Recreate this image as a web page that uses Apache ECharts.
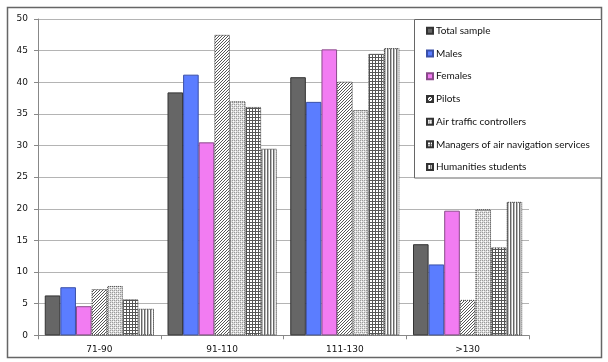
<!DOCTYPE html>
<html><head><meta charset="utf-8">
<script src="https://cdn.jsdelivr.net/npm/echarts@6/dist/echarts.min.js"></script>
<style>html,body{margin:0;padding:0;background:#fff}#c{width:608px;height:362px}</style>
</head><body><div id="c"></div>
<script>
const categories = ['71-90', '91-110', '111-130', '>130'];
const seriesNames = ['Total sample', 'Males', 'Females', 'Pilots', 'Air traffic controllers', 'Managers of air navigation services', 'Humanities students'];
const totalSample = [6.3, 38.4, 40.8, 14.4];
const males = [7.6, 41.2, 36.9, 11.2];
const females = [4.6, 30.5, 45.2, 19.7];
const pilots = [7.3, 47.5, 40.1, 5.6];
const atc = [7.8, 37.0, 35.6, 19.9];
const managers = [5.7, 36.1, 44.5, 13.9];
const humanities = [4.2, 29.5, 45.4, 21.1];
const yTicks = [0, 5, 10, 15, 20, 25, 30, 35, 40, 45, 50];

function pat(w, h, fn) {
  const c = document.createElement('canvas');
  c.width = w; c.height = h;
  const g = c.getContext('2d');
  fn(g);
  return { image: c, repeat: 'repeat' };
}
const pilotPat = pat(3, 3, g => {
  g.fillStyle = '#fff'; g.fillRect(0, 0, 3, 3);
  g.fillStyle = '#555';
  for (let i = 0; i < 3; i++) g.fillRect(i, 2 - i, 1, 1);
});
const atcPat = pat(4, 4, g => {
  g.fillStyle = '#dcdcdc'; g.fillRect(0, 0, 4, 4);
  g.fillStyle = '#9a9a9a';
  g.fillRect(0, 0, 1, 1); g.fillRect(2, 2, 1, 1); g.fillRect(2, 0, 1, 1); g.fillRect(0, 2, 1, 1);
  g.fillStyle = '#fff';
  g.fillRect(1, 1, 1, 1); g.fillRect(3, 3, 1, 1);
});
const mgrPat = pat(3, 3, g => {
  g.fillStyle = '#fff'; g.fillRect(0, 0, 3, 3);
  g.fillStyle = '#555';
  g.fillRect(0, 0, 3, 1); g.fillRect(0, 0, 1, 3);
});
const humPat = pat(3, 3, g => {
  g.fillStyle = '#fff'; g.fillRect(0, 0, 3, 3);
  g.fillStyle = '#666'; g.fillRect(0, 0, 1, 3);
  g.fillStyle = '#bbb'; g.fillRect(1, 0, 1, 3);
});

const styles = [
  { color: '#666666', borderColor: '#333', borderWidth: 1 },
  { color: '#5b7dff', borderColor: '#3a50a8', borderWidth: 1 },
  { color: '#f27cf2', borderColor: '#8a4a8a', borderWidth: 1 },
  { color: pilotPat, borderColor: '#333', borderWidth: 1, borderType: 'dotted' },
  { color: atcPat, borderColor: '#333', borderWidth: 1, borderType: 'dotted' },
  { color: mgrPat, borderColor: '#333', borderWidth: 1, borderType: 'dotted' },
  { color: humPat, borderColor: '#333', borderWidth: 1, borderType: 'dotted' }
];
const values = [totalSample, males, females, pilots, atc, managers, humanities];

const chart = echarts.init(document.getElementById('c'), null, { renderer: 'canvas' });
chart.setOption({
  animation: false,
  backgroundColor: '#fff',
  grid: { left: 38, right: 79, top: 19, bottom: 26.7 },
  xAxis: {
    type: 'category', data: categories,
    axisLine: { lineStyle: { color: '#888', width: 1 } },
    axisTick: { show: true, length: 4, lineStyle: { color: '#888' } },
    axisLabel: { fontFamily: 'DejaVu Sans', fontSize: 9, color: '#111', margin: 10 }
  },
  yAxis: {
    type: 'value', min: 0, max: 50, interval: 5,
    axisLine: { show: true, lineStyle: { color: '#888' } },
    axisTick: { show: true, length: 4, lineStyle: { color: '#888' } },
    splitLine: { lineStyle: { color: '#b4b4b4', width: 1 } },
    axisLabel: { fontFamily: 'DejaVu Sans', fontSize: 9, color: '#111', margin: 10,
      formatter: v => yTicks.includes(v) ? String(v) : '' }
  },
  legend: {
    orient: 'vertical', left: 426, top: 24, padding: 0, z: 60,
    itemWidth: 6, itemHeight: 6, itemGap: 9,
    icon: 'rect',
    textStyle: { fontFamily: 'Lato', fontSize: 10, color: '#111', lineHeight: 13.7, padding: [0, 0, 0, -2] },
    data: seriesNames
  },
  graphic: [
    { type: 'rect', z: 50, shape: { x: 414.5, y: 19.5, width: 187, height: 158.5 },
      style: { fill: '#fff', stroke: '#666', lineWidth: 1 } },
    { type: 'rect', z: 40, shape: { x: 7.5, y: 7.5, width: 594, height: 350 },
      style: { fill: null, stroke: '#666', lineWidth: 1.5 } }
  ],
  series: seriesNames.map((n, i) => ({
    name: n, type: 'bar', data: values[i],
    barGap: '0%', barCategoryGap: '11%',
    itemStyle: styles[i]
  }))
});
</script></body></html>
